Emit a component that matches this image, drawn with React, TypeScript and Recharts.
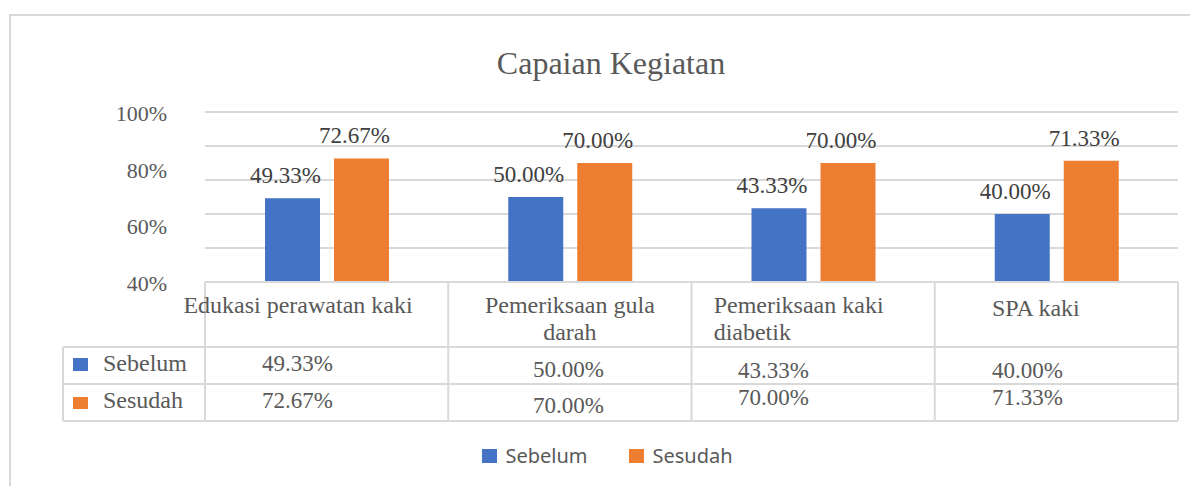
import React from 'react';
import { BarChart, Bar, XAxis, YAxis, CartesianGrid, LabelList, Legend } from 'recharts';

// ---------- data ----------
const categories = ['Edukasi perawatan kaki', 'Pemeriksaan gula darah', 'Pemeriksaan kaki diabetik', 'SPA kaki'];
const headerLines = [['Edukasi perawatan kaki'], ['Pemeriksaan gula', 'darah'], ['Pemeriksaan kaki', 'diabetik'], ['SPA kaki']];
const seriesNames = ['Sebelum', 'Sesudah'];
const sebelum = [0.4933, 0.5, 0.4333, 0.4];
const sesudah = [0.7267, 0.7, 0.7, 0.7133];
const gridTicks = [0, 0.2, 0.4, 0.6, 0.8, 1];
const axisLabelTicks = [0.4, 0.6, 0.8, 1];
const chartTitle = 'Capaian Kegiatan';

const data = categories.map((name, i) => ({ name, sebelum: sebelum[i], sesudah: sesudah[i] }));

// ---------- layout / style ----------
const W = 1190;
const H = 478;
const MARGIN = { top: 104, right: 20, bottom: 54, left: 157 };
const LABEL_AXIS_W = 40;
const PLOT_LEFT = MARGIN.left + LABEL_AXIS_W;
const PLOT_W = W - PLOT_LEFT - MARGIN.right;
const BW = PLOT_W / categories.length;
const BLUE = '#4472C4';
const ORANGE = '#ED7D31';
const GRID = '#d9d9d9';
const TEXT = '#595959';
const SERIF = "'Liberation Serif', 'Times New Roman', serif";
const SANS = "'Noto Sans', 'Open Sans', sans-serif";
const TABLE_FS = 23;
const HEADER_FS = 24;
const serifStyle = { fontFamily: SERIF };

// table row geometry relative to axis line
const ROW_H1 = 65; // header row
const ROW_H = 37;
const LEFT_COL_X = 55;

const headerLayout = [
  { anchor: 'middle', dx: -28.6, dys: [31] },
  { anchor: 'middle', dx: 0, dys: [31, 58] },
  { anchor: 'start', dx: -99.5, dys: [31, 58] },
  { anchor: 'start', dx: -64.4, dys: [34] },
];
const valueLayout = [
  { dx: -64.6, dys: [89, 126] },
  { dx: -36.9, dys: [95, 131] },
  { dx: -75.1, dys: [96, 123] },
  { dx: -64.4, dys: [96, 123] },
];

const pct2 = (v: number) => (v * 100).toFixed(2) + '%';
const pct0 = (v: number) => (v * 100).toFixed(0) + '%';

function TableTick(props: any) {
  const { x, y, index } = props;
  const left = x - BW / 2;
  const right = x + BW / 2;
  const r1 = y + ROW_H1;
  const r2 = r1 + ROW_H;
  const r3 = r2 + ROW_H;
  const hl = headerLayout[index];
  const vl = valueLayout[index];
  const lines = headerLines[index];
  return (
    <g>
      <line x1={right} x2={right} y1={y} y2={r3} stroke={GRID} strokeWidth={2} />
      {index === 0 && <line x1={left} x2={left} y1={y} y2={r3} stroke={GRID} strokeWidth={2} />}
      <line x1={left} x2={right} y1={r1} y2={r1} stroke={GRID} strokeWidth={2} />
      <line x1={left} x2={right} y1={r2} y2={r2} stroke={GRID} strokeWidth={2} />
      <line x1={left} x2={right} y1={r3} y2={r3} stroke={GRID} strokeWidth={2} />
      {index === 0 && (
        <g>
          <line x1={LEFT_COL_X} x2={left} y1={r1} y2={r1} stroke={GRID} strokeWidth={2} />
          <line x1={LEFT_COL_X} x2={left} y1={r2} y2={r2} stroke={GRID} strokeWidth={2} />
          <line x1={LEFT_COL_X} x2={left} y1={r3} y2={r3} stroke={GRID} strokeWidth={2} />
          <line x1={LEFT_COL_X} x2={LEFT_COL_X} y1={r1} y2={r3} stroke={GRID} strokeWidth={2} />
          <rect x={LEFT_COL_X + 10} y={r1 + 11} width={15} height={13} fill={BLUE} />
          <rect x={LEFT_COL_X + 10} y={r2 + 13} width={15} height={12} fill={ORANGE} />
          <text x={LEFT_COL_X + 40} y={r1 + 24} fontSize={HEADER_FS} style={serifStyle} fill={TEXT}>{seriesNames[0]}</text>
          <text x={LEFT_COL_X + 40} y={r2 + 24} fontSize={HEADER_FS} style={serifStyle} fill={TEXT}>{seriesNames[1]}</text>
        </g>
      )}
      {lines.map((ln, k) => (
        <text key={k} x={x + hl.dx} y={y + hl.dys[k]} textAnchor={hl.anchor as any} fontSize={HEADER_FS} style={serifStyle} fill={TEXT}>{ln}</text>
      ))}
      <text x={x + vl.dx} y={y + vl.dys[0]} fontSize={TABLE_FS} style={serifStyle} fill={TEXT}>{pct2(sebelum[index])}</text>
      <text x={x + vl.dx} y={y + vl.dys[1]} fontSize={TABLE_FS} style={serifStyle} fill={TEXT}>{pct2(sesudah[index])}</text>
    </g>
  );
}

function EmptyTick() {
  return <g />;
}

function AxisLabelTick(props: any) {
  const { x, y, payload } = props;
  return (
    <text x={x - 38} y={y + 9} textAnchor="end" fontSize={22} style={serifStyle} fill={TEXT}>{pct0(payload.value)}</text>
  );
}

function BarValueLabel(props: any) {
  const { x, y, width, value } = props;
  return (
    <text x={x + width / 2 - 7} y={y - 15} textAnchor="middle" fontSize={TABLE_FS} style={serifStyle} fill="#404040">{pct2(value)}</text>
  );
}

function LegendContent(props: any) {
  const payload = props.payload || [];
  return (
    <div style={{ display: 'flex', justifyContent: 'center', alignItems: 'center', height: 24, paddingLeft: 9 }}>
      {payload.map((p: any, i: number) => (
        <div key={i} style={{ display: 'flex', alignItems: 'center', marginRight: i === 0 ? 42 : 0 }}>
          <div style={{ width: 15, height: 14, background: p.color, marginRight: 8 }} />
          <span style={{ fontFamily: SANS, fontSize: 20, color: TEXT, lineHeight: '24px' }}>{p.value}</span>
        </div>
      ))}
    </div>
  );
}

export default function App() {
  return (
    <div style={{ position: 'relative', width: W, height: H, overflow: 'hidden', background: '#fff' }}>
      <div style={{ position: 'absolute', left: 1, top: 6, width: 1400, height: 700, border: `2px solid ${GRID}`, boxSizing: 'border-box' }} />
      <div style={{ position: 'absolute', left: 0, top: 0 }}>
        <BarChart width={W} height={H} data={data} margin={MARGIN} barSize={55} barGap={14}>
          <CartesianGrid vertical={false} stroke={GRID} strokeWidth={2} />
          <YAxis domain={[0, 1]} ticks={gridTicks} interval={0} allowDataOverflow width={0} tick={<EmptyTick />} axisLine={false} tickLine={false} />
          <YAxis yAxisId="lbl" type="number" domain={[0.4, 1]} allowDataOverflow ticks={axisLabelTicks} interval={0} width={LABEL_AXIS_W} axisLine={false} tickLine={false} tickSize={0} tickMargin={0} tick={<AxisLabelTick />} />
          <XAxis dataKey="name" height={150} interval={0} tickSize={0} tickMargin={0} tickLine={false} axisLine={{ stroke: GRID, strokeWidth: 2 }} tick={<TableTick />} />
          <Legend verticalAlign="middle" align="center" layout="horizontal" wrapperStyle={{ top: 436, left: 0, width: W, height: 24 }} content={<LegendContent />} />
          <Bar dataKey="sebelum" name={seriesNames[0]} fill={BLUE} isAnimationActive={false}>
            <LabelList dataKey="sebelum" content={<BarValueLabel />} />
          </Bar>
          <Bar dataKey="sesudah" name={seriesNames[1]} fill={ORANGE} isAnimationActive={false}>
            <LabelList dataKey="sesudah" content={<BarValueLabel />} />
          </Bar>
        </BarChart>
      </div>
      <svg width={W} height={H} style={{ position: 'absolute', left: 0, top: 0, pointerEvents: 'none' }}>
        <text x={603} y={66} textAnchor="middle" fontSize={32} style={serifStyle} fill={TEXT}>{chartTitle}</text>
      </svg>
    </div>
  );
}
